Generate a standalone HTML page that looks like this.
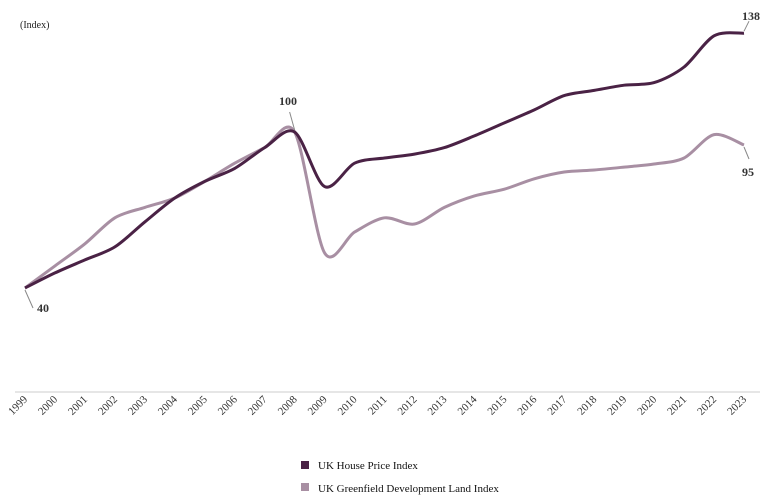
<!DOCTYPE html>
<html><head><meta charset="utf-8">
<style>
body{margin:0;background:#fff;width:779px;height:501px;overflow:hidden;font-family:"Liberation Serif",serif;}
svg{display:block}
</style></head>
<body>
<svg id="chart" width="779" height="501" xmlns="http://www.w3.org/2000/svg">
<text x="20" y="28" font-size="10" fill="#222">(Index)</text>
<line x1="15" y1="392" x2="760" y2="392" stroke="#ccc" stroke-width="1"/>
<g id="xticks"></g>
<g id="series"></g>
<g id="labels"></g>
<g>
<rect x="301" y="461" width="8" height="8" fill="#4a2245"/>
<text x="318" y="469" font-size="11" fill="#111">UK House Price Index</text>
<rect x="301" y="483" width="8" height="8" fill="#a88fa3"/>
<text x="318" y="492" font-size="11" fill="#111">UK Greenfield Development Land Index</text>
</g>
</svg>
<script>
const years=[1999,2000,2001,2002,2003,2004,2005,2006,2007,2008,2009,2010,2011,2012,2013,2014,2015,2016,2017,2018,2019,2020,2021,2022,2023];
const housePrice=[40,45.8,50.8,55.8,65.4,74.6,81,86,94,100,79,88,90,91.5,94,98.5,103.5,108.5,114,116,118,119,125,137,138];
const landIndex=[40,48.5,57,67,71,74.6,81,88,94,100,53.5,61.5,67,64.6,71,75.4,78,82,84.6,85.4,86.5,87.7,90,99,95];
const NS="http://www.w3.org/2000/svg";
const x0=25,x1=744,yBase=392,yScale=2.6;
function xPos(i){return x0+(x1-x0)*i/(years.length-1);}
function yPos(v){return yBase-v*yScale;}
function pathFor(vals){
  const p=vals.map((v,i)=>[xPos(i),yPos(v)]);
  let d="M"+p[0][0]+","+p[0][1];
  for(let i=0;i<p.length-1;i++){
    const a=p[i-1]||p[i],b=p[i],c=p[i+1],e=p[i+2]||c;
    const t=0.15;
    d+=" C"+(b[0]+(c[0]-a[0])*t)+","+(b[1]+(c[1]-a[1])*t)+" "+(c[0]-(e[0]-b[0])*t)+","+(c[1]-(e[1]-b[1])*t)+" "+c[0]+","+c[1];
  }
  return d;
}
const sg=document.getElementById('series');
[[landIndex,'#a88fa3','land-index-line'],[housePrice,'#4a2245','house-price-line']].forEach(s=>{
  const el=document.createElementNS(NS,'path');
  el.setAttribute('d',pathFor(s[0]));
  el.setAttribute('fill','none');el.setAttribute('stroke',s[1]);el.setAttribute('stroke-width','3');
  
  
  sg.appendChild(el);
});
const xt=document.getElementById('xticks');
years.forEach((y,i)=>{
  const t=document.createElementNS(NS,'text');
  const x=xPos(i)+3,yy=400;
  t.setAttribute('x',x);t.setAttribute('y',yy);
  t.setAttribute('transform','rotate(-45 '+x+' '+yy+')');
  t.setAttribute('text-anchor','end');t.setAttribute('font-size','11');t.setAttribute('fill','#333');
  t.textContent=y;
  
  
  xt.appendChild(t);
});
const lg=document.getElementById('labels');
function lbl(txt,x,y,lx1,ly1,lx2,ly2){
  const l=document.createElementNS(NS,'polyline');
  l.setAttribute('points',lx1+','+ly1+' '+lx2+','+ly2);
  l.setAttribute('stroke','#888');l.setAttribute('fill','none');
  
  
  lg.appendChild(l);
  const t=document.createElementNS(NS,'text');
  t.setAttribute('x',x);t.setAttribute('y',y);t.setAttribute('font-size','12');t.setAttribute('font-weight','bold');t.setAttribute('fill','#333');
  t.textContent=txt;
  
  
  lg.appendChild(t);
}
lbl(housePrice[0],37,312,xPos(0),yPos(housePrice[0])+2,xPos(0)+8,yPos(housePrice[0])+20);
lbl(housePrice[9],279,105,xPos(9),yPos(housePrice[9])-2,xPos(9)-5,yPos(housePrice[9])-20);
lbl(housePrice[24],742,20,xPos(24),yPos(housePrice[24])-2,xPos(24)+5,yPos(housePrice[24])-12);
lbl(landIndex[24],742,176,xPos(24),yPos(landIndex[24])+2,xPos(24)+5,yPos(landIndex[24])+14);
</script>
</body></html>
